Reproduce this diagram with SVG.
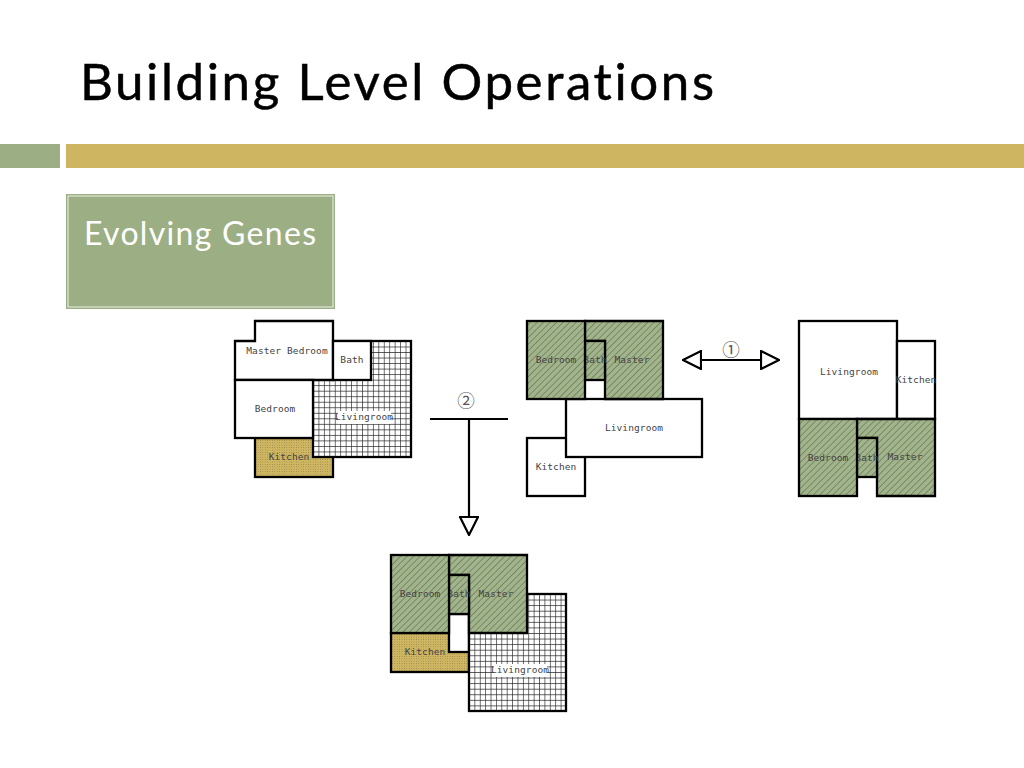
<svg xmlns="http://www.w3.org/2000/svg" width="1024" height="768" viewBox="0 0 1024 768">
<style>
.r{stroke:#000;stroke-width:2.3;stroke-linejoin:miter}
.w{fill:#fff}.h{fill:url(#hatch)}.g{fill:url(#grid)}.d{fill:url(#dots)}
.t{font-family:"DejaVu Sans Mono","Liberation Mono",monospace;font-size:9.5px;letter-spacing:.1px;fill:#444;text-anchor:middle}
.c{stroke:#000;stroke-width:2.2;fill:none}
.title{font-family:Lato,"Noto Sans",sans-serif;font-variant-ligatures:none}
.n{font-family:"Noto Sans CJK JP","DejaVu Sans",sans-serif;font-size:17.5px;fill:#555;text-anchor:middle}
</style>
<defs>
<pattern id="hatch" width="4.6" height="4.6" patternUnits="userSpaceOnUse" patternTransform="rotate(45)">
<rect width="4.6" height="4.6" fill="#a2b48b"/><line x1="0" y1="0" x2="0" y2="4.6" stroke="#4f5e43" stroke-width="1"/>
</pattern>
<pattern id="grid" width="0.05556" height="0.04762" patternUnits="objectBoundingBox">
<rect width="6" height="6" fill="#fff"/><path d="M0 0V6M0 0H6" stroke="#222" stroke-width="1.3" fill="none"/>
</pattern>
<pattern id="dots" width="2.4" height="2.4" patternUnits="userSpaceOnUse">
<rect width="2.4" height="2.4" fill="#cfb663"/><circle cx="1.2" cy="1.2" r=".45" fill="#8a7a3e"/>
</pattern>
<marker id="tri" viewBox="0 0 20 20" refX="0" refY="10" markerWidth="20" markerHeight="20" markerUnits="userSpaceOnUse" orient="auto-start-reverse">
<path d="M1 1L19 10L1 19Z" fill="#fff" stroke="#000" stroke-width="2.2"/>
</marker>
</defs>
<rect width="1024" height="768" fill="#fff"/>
<g id="header">
<text class="title" x="80" y="100" font-size="51" fill="#000" stroke="#000" stroke-width=".5" textLength="634" lengthAdjust="spacing">Building Level Operations</text>
<rect x="0" y="144" width="60" height="24" fill="#9cae84"/>
<rect x="66" y="144" width="958" height="24" fill="#cdb562"/>
</g>
<g id="label-box">
<rect x="66" y="194" width="269" height="115" fill="#9cae84"/>
<rect x="68" y="196" width="265" height="111" fill="none" stroke="#dfe6d6" stroke-width="1.2"/>
<text class="title" x="84" y="245" font-size="32" fill="#fff" textLength="232" lengthAdjust="spacing">Evolving Genes</text>
</g>

<g id="plan-a">
<g id="a-kitchen"><rect class="r d" x="255" y="438" width="78" height="39"/><text class="t" x="289" y="460">Kitchen</text></g>
<g id="a-livingroom"><rect class="r g" x="313" y="341" width="98" height="116"/><rect x="338" y="411" width="53" height="13" fill="#fff"/><text class="t" x="364" y="420">Livingroom</text></g>
<g id="a-master"><path class="r w" d="M255 321H333V380H235V341H255Z"/><text class="t" x="287" y="354">Master Bedroom</text></g>
<g id="a-bath"><rect class="r w" x="333" y="341" width="38" height="39"/><text class="t" x="352" y="363">Bath</text></g>
<g id="a-bedroom"><rect class="r w" x="235" y="380" width="78" height="58"/><text class="t" x="275" y="412">Bedroom</text></g>
</g>

<g id="plan-b">
<g id="b-kitchen"><rect class="r w" x="527" y="438" width="58" height="58"/><text class="t" x="556" y="470">Kitchen</text></g>
<g id="b-livingroom"><rect class="r w" x="566" y="399" width="136" height="58"/><text class="t" x="634" y="431">Livingroom</text></g>
<g id="b-master"><path class="r h" d="M585 321H663V399H605V341H585Z"/><text class="t" x="632" y="363">Master</text></g>
<g id="b-bath"><rect class="r h" x="585" y="341" width="20" height="39"/><text class="t" x="595" y="363">Bath</text></g>
<g id="b-bedroom"><rect class="r h" x="527" y="321" width="58" height="78"/><text class="t" x="556" y="363">Bedroom</text></g>
</g>

<g id="plan-c">
<g id="c-livingroom"><rect class="r w" x="799" y="321" width="98" height="98"/><text class="t" x="849" y="375">Livingroom</text></g>
<g id="c-kitchen"><rect class="r w" x="897" y="341" width="38" height="78"/><text class="t" x="916" y="383">Kitchen</text></g>
<g id="c-master"><path class="r h" d="M857 419H935V496H877V438H857Z"/><text class="t" x="905" y="460">Master</text></g>
<g id="c-bath"><rect class="r h" x="857" y="438" width="20" height="39"/><text class="t" x="867" y="461">Bath</text></g>
<g id="c-bedroom"><rect class="r h" x="799" y="419" width="58" height="77"/><text class="t" x="828" y="461">Bedroom</text></g>
</g>

<g id="plan-d">
<g id="d-kitchen"><rect class="r d" x="391" y="633" width="78" height="39"/><text class="t" x="425" y="655">Kitchen</text></g>
<g id="d-gap"><rect class="r w" x="449" y="614" width="20" height="38"/></g>
<g id="d-livingroom"><rect class="r g" x="469" y="594" width="97" height="117"/><rect x="494" y="664" width="53" height="13" fill="#fff"/><text class="t" x="520" y="673">Livingroom</text></g>
<g id="d-master"><path class="r h" d="M449 555H527V633H469V575H449Z"/><text class="t" x="496" y="597">Master</text></g>
<g id="d-bath"><rect class="r h" x="449" y="575" width="20" height="39"/><text class="t" x="459" y="597">Bath</text></g>
<g id="d-bedroom"><rect class="r h" x="391" y="555" width="58" height="78"/><text class="t" x="420" y="597">Bedroom</text></g>
</g>

<g id="connectors">
<line class="c" x1="702" y1="360" x2="760" y2="360" marker-start="url(#tri)" marker-end="url(#tri)"/>
<line class="c" x1="430" y1="419" x2="508" y2="419"/>
<line class="c" x1="469" y1="419" x2="469" y2="516" marker-end="url(#tri)"/>
<text class="n" x="731" y="356">①</text>
<text class="n" x="466" y="407">②</text>
</g>
</svg>
